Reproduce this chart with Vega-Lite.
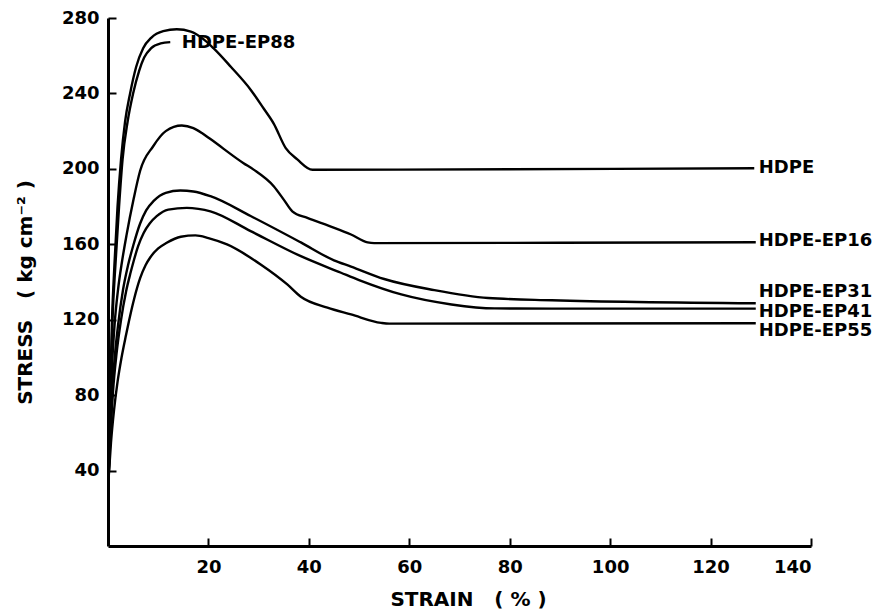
{
  "$schema": "https://vega.github.io/schema/vega-lite/v6.json",
  "width": 703,
  "height": 528,
  "autosize": "none",
  "padding": {"left": 108, "top": 18, "right": 65, "bottom": 64},
  "background": "white",
  "config": {
    "view": {"stroke": null},
    "font": "DejaVu Sans",
    "axis": {
      "grid": false,
      "domainColor": "black",
      "domainWidth": 3,
      "tickColor": "black",
      "tickWidth": 2,
      "tickSize": -8,
      "labelFont": "DejaVu Sans",
      "labelFontWeight": "bold",
      "labelFontSize": 18,
      "labelColor": "black",
      "titleFont": "DejaVu Sans",
      "titleFontWeight": "bold",
      "titleFontSize": 20,
      "titleColor": "black"
    }
  },
  "datasets": {
    "curves": [
      {"sample": "HDPE", "strain": 0.1, "stress": 35},
      {"sample": "HDPE", "strain": 0.4, "stress": 80},
      {"sample": "HDPE", "strain": 0.8, "stress": 120},
      {"sample": "HDPE", "strain": 1.3, "stress": 150},
      {"sample": "HDPE", "strain": 1.9, "stress": 180},
      {"sample": "HDPE", "strain": 2.6, "stress": 205},
      {"sample": "HDPE", "strain": 3.4, "stress": 225},
      {"sample": "HDPE", "strain": 4.4, "stress": 240},
      {"sample": "HDPE", "strain": 5.6, "stress": 254},
      {"sample": "HDPE", "strain": 7.0, "stress": 264},
      {"sample": "HDPE", "strain": 8.6, "stress": 269.5},
      {"sample": "HDPE", "strain": 11.0, "stress": 273},
      {"sample": "HDPE", "strain": 13.7, "stress": 274},
      {"sample": "HDPE", "strain": 16.5, "stress": 272.8},
      {"sample": "HDPE", "strain": 19.0, "stress": 268.8},
      {"sample": "HDPE", "strain": 21.0, "stress": 264},
      {"sample": "HDPE", "strain": 24.5, "stress": 254},
      {"sample": "HDPE", "strain": 28.4, "stress": 242},
      {"sample": "HDPE", "strain": 31.0, "stress": 232},
      {"sample": "HDPE", "strain": 33.0, "stress": 224},
      {"sample": "HDPE", "strain": 35.4, "stress": 211},
      {"sample": "HDPE", "strain": 37.7, "stress": 205},
      {"sample": "HDPE", "strain": 40.7, "stress": 199.5},
      {"sample": "HDPE", "strain": 80.0, "stress": 199.8},
      {"sample": "HDPE", "strain": 128.7, "stress": 200.3},

      {"sample": "HDPE-EP88", "strain": 0.1, "stress": 35},
      {"sample": "HDPE-EP88", "strain": 0.5, "stress": 80},
      {"sample": "HDPE-EP88", "strain": 0.9, "stress": 120},
      {"sample": "HDPE-EP88", "strain": 1.5, "stress": 150},
      {"sample": "HDPE-EP88", "strain": 2.2, "stress": 180},
      {"sample": "HDPE-EP88", "strain": 2.9, "stress": 205},
      {"sample": "HDPE-EP88", "strain": 3.9, "stress": 225},
      {"sample": "HDPE-EP88", "strain": 5.0, "stress": 240},
      {"sample": "HDPE-EP88", "strain": 6.2, "stress": 252},
      {"sample": "HDPE-EP88", "strain": 7.2, "stress": 259},
      {"sample": "HDPE-EP88", "strain": 8.6, "stress": 264},
      {"sample": "HDPE-EP88", "strain": 10.5, "stress": 266.5},
      {"sample": "HDPE-EP88", "strain": 12.4, "stress": 267.2},

      {"sample": "HDPE-EP16", "strain": 0.1, "stress": 35},
      {"sample": "HDPE-EP16", "strain": 0.4, "stress": 65},
      {"sample": "HDPE-EP16", "strain": 0.8, "stress": 95},
      {"sample": "HDPE-EP16", "strain": 1.3, "stress": 117},
      {"sample": "HDPE-EP16", "strain": 2.0, "stress": 136},
      {"sample": "HDPE-EP16", "strain": 2.8, "stress": 151},
      {"sample": "HDPE-EP16", "strain": 3.7, "stress": 165},
      {"sample": "HDPE-EP16", "strain": 5.1, "stress": 184},
      {"sample": "HDPE-EP16", "strain": 6.4, "stress": 199},
      {"sample": "HDPE-EP16", "strain": 9.0, "stress": 212},
      {"sample": "HDPE-EP16", "strain": 11.5, "stress": 220},
      {"sample": "HDPE-EP16", "strain": 14.7, "stress": 223},
      {"sample": "HDPE-EP16", "strain": 17.0, "stress": 221.6},
      {"sample": "HDPE-EP16", "strain": 18.7, "stress": 219},
      {"sample": "HDPE-EP16", "strain": 20.4, "stress": 215.8},
      {"sample": "HDPE-EP16", "strain": 27.0, "stress": 203},
      {"sample": "HDPE-EP16", "strain": 29.0, "stress": 199.6},
      {"sample": "HDPE-EP16", "strain": 33.0, "stress": 190.8},
      {"sample": "HDPE-EP16", "strain": 35.0, "stress": 183.7},
      {"sample": "HDPE-EP16", "strain": 36.7, "stress": 177.5},
      {"sample": "HDPE-EP16", "strain": 39.7, "stress": 174},
      {"sample": "HDPE-EP16", "strain": 44.0, "stress": 169.8},
      {"sample": "HDPE-EP16", "strain": 48.4, "stress": 165.2},
      {"sample": "HDPE-EP16", "strain": 51.7, "stress": 161},
      {"sample": "HDPE-EP16", "strain": 53.0, "stress": 160.6},
      {"sample": "HDPE-EP16", "strain": 90.0, "stress": 160.8},
      {"sample": "HDPE-EP16", "strain": 129.0, "stress": 161.1},

      {"sample": "HDPE-EP31", "strain": 0.1, "stress": 35},
      {"sample": "HDPE-EP31", "strain": 0.5, "stress": 62},
      {"sample": "HDPE-EP31", "strain": 0.9, "stress": 84},
      {"sample": "HDPE-EP31", "strain": 1.4, "stress": 102},
      {"sample": "HDPE-EP31", "strain": 2.0, "stress": 117},
      {"sample": "HDPE-EP31", "strain": 3.0, "stress": 136},
      {"sample": "HDPE-EP31", "strain": 4.0, "stress": 149},
      {"sample": "HDPE-EP31", "strain": 5.1, "stress": 160},
      {"sample": "HDPE-EP31", "strain": 6.4, "stress": 171},
      {"sample": "HDPE-EP31", "strain": 7.6, "stress": 178},
      {"sample": "HDPE-EP31", "strain": 9.1, "stress": 183},
      {"sample": "HDPE-EP31", "strain": 11.5, "stress": 187.3},
      {"sample": "HDPE-EP31", "strain": 14.4, "stress": 188.5},
      {"sample": "HDPE-EP31", "strain": 17.0, "stress": 188},
      {"sample": "HDPE-EP31", "strain": 20.4, "stress": 185.5},
      {"sample": "HDPE-EP31", "strain": 28.4, "stress": 175},
      {"sample": "HDPE-EP31", "strain": 38.4, "stress": 161},
      {"sample": "HDPE-EP31", "strain": 45.0, "stress": 151.5},
      {"sample": "HDPE-EP31", "strain": 48.4, "stress": 148.2},
      {"sample": "HDPE-EP31", "strain": 55.0, "stress": 141.6},
      {"sample": "HDPE-EP31", "strain": 65.0, "stress": 135.7},
      {"sample": "HDPE-EP31", "strain": 75.7, "stress": 131.5},
      {"sample": "HDPE-EP31", "strain": 88.4, "stress": 130.3},
      {"sample": "HDPE-EP31", "strain": 129.0, "stress": 128.7},

      {"sample": "HDPE-EP41", "strain": 0.1, "stress": 35},
      {"sample": "HDPE-EP41", "strain": 0.5, "stress": 60},
      {"sample": "HDPE-EP41", "strain": 1.0, "stress": 82},
      {"sample": "HDPE-EP41", "strain": 1.7, "stress": 102},
      {"sample": "HDPE-EP41", "strain": 2.6, "stress": 120},
      {"sample": "HDPE-EP41", "strain": 3.6, "stress": 135},
      {"sample": "HDPE-EP41", "strain": 4.5, "stress": 145},
      {"sample": "HDPE-EP41", "strain": 5.1, "stress": 151},
      {"sample": "HDPE-EP41", "strain": 6.0, "stress": 159},
      {"sample": "HDPE-EP41", "strain": 7.1, "stress": 166},
      {"sample": "HDPE-EP41", "strain": 8.3, "stress": 171},
      {"sample": "HDPE-EP41", "strain": 9.7, "stress": 174.9},
      {"sample": "HDPE-EP41", "strain": 12.0, "stress": 178.4},
      {"sample": "HDPE-EP41", "strain": 15.7, "stress": 179.3},
      {"sample": "HDPE-EP41", "strain": 18.0, "stress": 178.8},
      {"sample": "HDPE-EP41", "strain": 20.4, "stress": 177.5},
      {"sample": "HDPE-EP41", "strain": 28.4, "stress": 167},
      {"sample": "HDPE-EP41", "strain": 38.4, "stress": 153.7},
      {"sample": "HDPE-EP41", "strain": 46.4, "stress": 144.9},
      {"sample": "HDPE-EP41", "strain": 50.0, "stress": 141},
      {"sample": "HDPE-EP41", "strain": 58.4, "stress": 133.4},
      {"sample": "HDPE-EP41", "strain": 68.4, "stress": 128.1},
      {"sample": "HDPE-EP41", "strain": 77.0, "stress": 126},
      {"sample": "HDPE-EP41", "strain": 88.4, "stress": 125.9},
      {"sample": "HDPE-EP41", "strain": 129.0, "stress": 125.9},

      {"sample": "HDPE-EP55", "strain": 0.1, "stress": 35},
      {"sample": "HDPE-EP55", "strain": 0.6, "stress": 55},
      {"sample": "HDPE-EP55", "strain": 1.2, "stress": 72},
      {"sample": "HDPE-EP55", "strain": 1.9, "stress": 87},
      {"sample": "HDPE-EP55", "strain": 2.7, "stress": 100},
      {"sample": "HDPE-EP55", "strain": 3.6, "stress": 112},
      {"sample": "HDPE-EP55", "strain": 4.4, "stress": 122},
      {"sample": "HDPE-EP55", "strain": 5.2, "stress": 131},
      {"sample": "HDPE-EP55", "strain": 6.4, "stress": 142},
      {"sample": "HDPE-EP55", "strain": 7.5, "stress": 149},
      {"sample": "HDPE-EP55", "strain": 8.4, "stress": 153},
      {"sample": "HDPE-EP55", "strain": 10.0, "stress": 157.8},
      {"sample": "HDPE-EP55", "strain": 11.7, "stress": 160.8},
      {"sample": "HDPE-EP55", "strain": 14.5, "stress": 164},
      {"sample": "HDPE-EP55", "strain": 17.4, "stress": 164.7},
      {"sample": "HDPE-EP55", "strain": 20.0, "stress": 163.3},
      {"sample": "HDPE-EP55", "strain": 23.7, "stress": 159.9},
      {"sample": "HDPE-EP55", "strain": 30.4, "stress": 149.3},
      {"sample": "HDPE-EP55", "strain": 35.7, "stress": 138.7},
      {"sample": "HDPE-EP55", "strain": 38.4, "stress": 132.2},
      {"sample": "HDPE-EP55", "strain": 43.7, "stress": 126.4},
      {"sample": "HDPE-EP55", "strain": 48.4, "stress": 122.8},
      {"sample": "HDPE-EP55", "strain": 54.4, "stress": 118.3},
      {"sample": "HDPE-EP55", "strain": 56.0, "stress": 117.9},
      {"sample": "HDPE-EP55", "strain": 129.0, "stress": 118.1}
    ],
    "labels": [
      {"label": "HDPE", "strain": 129.6, "stress": 200.6},
      {"label": "HDPE-EP16", "strain": 129.6, "stress": 161.7},
      {"label": "HDPE-EP31", "strain": 129.6, "stress": 134.8},
      {"label": "HDPE-EP41", "strain": 129.6, "stress": 124.0},
      {"label": "HDPE-EP55", "strain": 129.6, "stress": 113.8},
      {"label": "HDPE-EP88", "strain": 14.7, "stress": 267.0}
    ]
  },
  "layer": [
    {
      "data": {"name": "curves"},
      "mark": {"type": "line", "color": "black", "strokeWidth": 2.4, "interpolate": "monotone", "clip": true},
      "encoding": {
        "x": {
          "field": "strain", "type": "quantitative",
          "scale": {"domain": [0, 140], "nice": false, "zero": true},
          "axis": {
            "title": "STRAIN\u00a0\u00a0\u00a0(\u00a0%\u00a0)",
            "values": [20, 40, 60, 80, 100, 120, 140],
            "tickSize": -8,
            "labelPadding": 20,
            "titleX": 360,
            "titleY": 53,
            "titleAlign": "center",
            "titleBaseline": "middle"
          }
        },
        "y": {
          "field": "stress", "type": "quantitative",
          "scale": {"domain": [0, 280], "nice": false},
          "axis": {
            "title": "STRESS\u00a0\u00a0\u00a0(\u00a0kg\u00a0cm⁻²\u00a0)",
            "values": [40, 80, 120, 160, 200, 240, 280],
            "tickSize": -8,
            "labelPadding": 17,
            "titleX": -83,
            "titleY": 274,
            "titleAngle": -90,
            "titleAlign": "center",
            "titleBaseline": "middle"
          }
        },
        "detail": {"field": "sample", "type": "nominal"}
      }
    },
    {
      "data": {"name": "labels"},
      "mark": {"type": "text", "align": "left", "baseline": "middle", "font": "DejaVu Sans", "fontWeight": "bold", "fontSize": 18, "color": "black"},
      "encoding": {
        "x": {"field": "strain", "type": "quantitative"},
        "y": {"field": "stress", "type": "quantitative"},
        "text": {"field": "label", "type": "nominal"}
      }
    }
  ]
}
